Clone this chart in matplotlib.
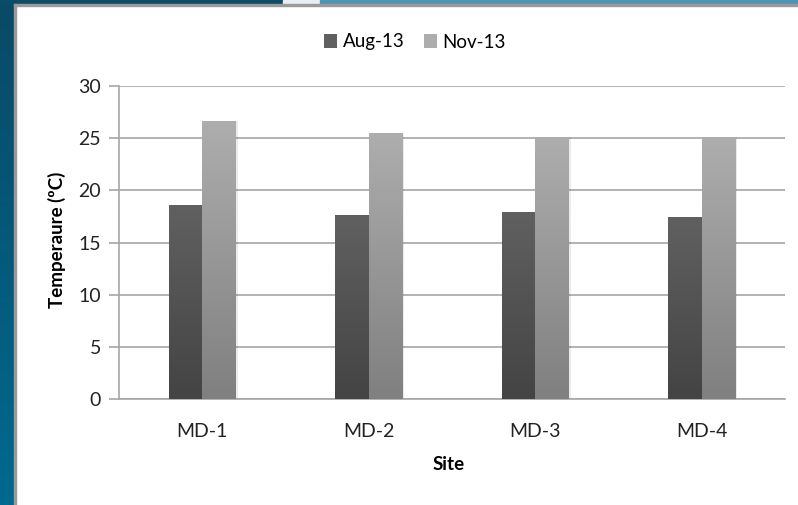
import numpy as np
import matplotlib.pyplot as plt
from matplotlib.patches import Rectangle, Patch

sites = ["MD-1", "MD-2", "MD-3", "MD-4"]
series = ["Aug-13", "Nov-13"]
aug13 = [18.5, 17.6, 17.9, 17.4]
nov13 = [26.6, 25.4, 25.1, 25.1]
yticks = [0, 5, 10, 15, 20, 25, 30]

# gradient colours (top, bottom) per series
grad = [("#606060", "#444444"), ("#adadad", "#808080")]

plt.rcParams['font.family'] = ['Lato', 'DejaVu Sans']

fig = plt.figure(figsize=(7.98, 5.05), dpi=100)
W, H = 798, 505

# slide background behind the white chart panel
left_bg = np.linspace(0, 1, 100).reshape(-1, 1)
bg_ax = fig.add_axes([0, 0, 14 / W, 1])
bg_ax.imshow(left_bg, aspect='auto', extent=(0, 1, 0, 1),
             cmap=plt.matplotlib.colors.LinearSegmentedColormap.from_list(
                 'bg', ["#0a4a66", "#00698f"]))
bg_ax.axis('off')
fig.patches.append(Rectangle((0, 1 - 4 / H), 283 / W, 4 / H,
                             transform=fig.transFigure, color="#0b4d69"))
fig.patches.append(Rectangle((283 / W, 1 - 4 / H), 37 / W, 4 / H,
                             transform=fig.transFigure, color="#e8eef2"))
fig.patches.append(Rectangle((320 / W, 1 - 4 / H), 478 / W, 4 / H,
                             transform=fig.transFigure, color="#4f93b5"))
fig.patches.append(Rectangle((14 / W, 0), 1.5 / W, 1 - 4 / H,
                             transform=fig.transFigure, color="#9a9a9a"))
fig.patches.append(Rectangle((14 / W, 1 - 5.5 / H), 1 - 14 / W, 1.5 / H,
                             transform=fig.transFigure, color="#9a9a9a"))

ax = fig.add_axes([119 / W, 1 - 399 / H, 666 / W, 313 / H])

x = np.arange(len(sites))
width = 0.2
values = [aug13, nov13]
for i, vals in enumerate(values):
    offs = (i - 0.5) * width
    bars = ax.bar(x + offs, vals, width, color="none", zorder=3)
    cmap = plt.matplotlib.colors.LinearSegmentedColormap.from_list(
        'g%d' % i, [grad[i][1], grad[i][0]])
    for b in bars:
        bx, bw, bh = b.get_x(), b.get_width(), b.get_height()
        # soft shadow
        ax.add_patch(Rectangle((bx + bw, 0), 0.012, bh, color="#000000",
                               alpha=0.08, zorder=2, linewidth=0))
        ax.imshow(np.linspace(1, 0, 64).reshape(-1, 1), cmap=cmap,
                  aspect='auto', extent=(bx, bx + bw, 0, bh),
                  zorder=3, interpolation='bilinear')

ax.set_xlim(-0.5, len(sites) - 0.5)
ax.set_ylim(0, 30)
ax.set_yticks(yticks)
ax.set_xticks(x)
ax.set_xticklabels(sites)
ax.yaxis.grid(True, color="#a6a6a6", linewidth=1.2, zorder=0)
ax.set_axisbelow(True)

for s in ["top", "right"]:
    ax.spines[s].set_visible(False)
for s in ["left", "bottom"]:
    ax.spines[s].set_color("#a6a6a6")
    ax.spines[s].set_linewidth(1.2)
ax.tick_params(axis='y', length=7, color="#a6a6a6", width=1.2,
               labelsize=14, labelcolor="#222222", pad=6)
ax.tick_params(axis='x', length=0, labelsize=14, labelcolor="#222222",
               pad=17)

fig.text(57 / W, 1 - 240 / H, "Temperaure (ºC)", rotation=90,
         ha='center', va='center', fontsize=13.5, fontweight='bold')
fig.text(449 / W, 1 - 465 / H, "Site", ha='center', va='center',
         fontsize=13.5, fontweight='bold')

handles = [Patch(facecolor=grad[i][0], edgecolor='none') for i in range(2)]
fig.legend(handles, series, loc='center', bbox_to_anchor=(415 / W, 1 - 42 / H),
           ncol=2, frameon=False, fontsize=13.5, handlelength=0.7,
           handleheight=0.7, handletextpad=0.3, columnspacing=1.0)

fig.savefig("out.png", dpi=100)
